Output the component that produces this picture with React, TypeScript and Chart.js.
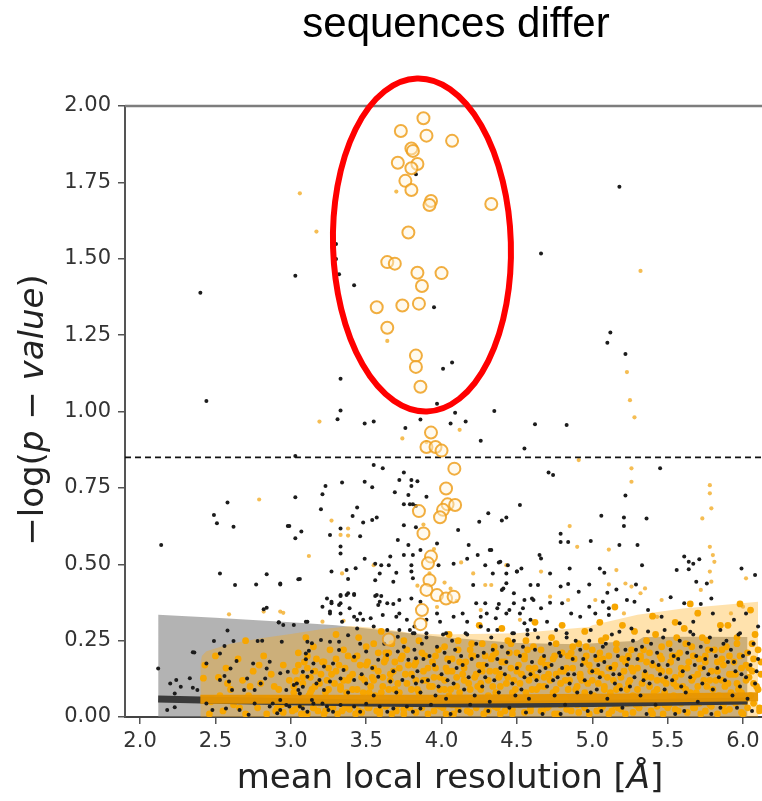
import React, { useEffect, useRef } from "react";
import { Chart, registerables } from "chart.js";

Chart.register(...registerables);

const titleText = "sequences differ";
const xMin = 1.9;
const xMax = 6.126;
const yMin = 0;
const yMax = 2.0;
const xTicks = [2.0, 2.5, 3.0, 3.5, 4.0, 4.5, 5.0, 5.5, 6.0];
const yTicks = [0, 0.25, 0.5, 0.75, 1.0, 1.25, 1.5, 1.75, 2.0];
const threshold = 0.85;

// red annotation ellipse (data units)
const ellipseCenter = [3.87, 1.545];
const ellipseRadius = [0.59, 0.545];

const grayBandUpper = [
  [2.12, 0.335], [2.5, 0.325], [3.0, 0.31], [3.3, 0.3], [3.6, 0.285], [4.0, 0.262],
  [4.5, 0.242], [4.9, 0.238], [5.3, 0.25], [5.34, 0.262], [5.7, 0.263], [6.03, 0.262],
];
const orangeBandUpper = [
  [2.4, 0.17], [2.41, 0.2], [2.44, 0.215], [2.6, 0.24], [2.8, 0.258], [3.0, 0.272],
  [3.2, 0.287], [3.4, 0.298], [3.6, 0.29], [3.8, 0.275], [4.0, 0.27], [4.5, 0.274],
  [4.98, 0.295], [5.0, 0.3], [5.3, 0.335], [5.6, 0.355], [5.9, 0.368], [6.1, 0.377],
];
const blackFit = [
  [2.12, 0.059], [2.4, 0.056], [3.0, 0.05], [3.5, 0.046], [4.0, 0.043], [4.5, 0.042],
  [5.0, 0.044], [5.5, 0.048], [6.03, 0.052],
];
const orangeFit = [
  [2.4, 0.058], [3.0, 0.058], [4.0, 0.058], [5.0, 0.061], [5.5, 0.063], [6.1, 0.066],
];

const orangeCircles = [
  [3.88, 1.96], [3.73, 1.918], [3.90, 1.903], [4.07, 1.886], [3.80, 1.861], [3.81, 1.853],
  [3.71, 1.814], [3.84, 1.81], [3.80, 1.796], [3.76, 1.755], [3.80, 1.725], [3.93, 1.689],
  [3.92, 1.676], [4.33, 1.679], [3.78, 1.586], [3.64, 1.489], [3.69, 1.484], [3.84, 1.454],
  [4.00, 1.453], [3.87, 1.411], [3.57, 1.341], [3.74, 1.347], [3.85, 1.353], [3.64, 1.274],
  [3.83, 1.183], [3.83, 1.146], [3.86, 1.081], [3.93, 0.931], [3.90, 0.884], [3.96, 0.884],
  [4.00, 0.872], [4.085, 0.813], [4.03, 0.748], [4.04, 0.696], [4.09, 0.694], [4.01, 0.678],
  [3.99, 0.654], [3.85, 0.674], [3.88, 0.601], [3.93, 0.525], [3.91, 0.503], [3.92, 0.448],
  [3.90, 0.416], [3.97, 0.399], [4.03, 0.388], [4.08, 0.394], [3.87, 0.35], [3.86, 0.304],
  [3.65, 0.254],
];

const blackDots = [
  [2.40, 1.389], [2.44, 1.034], [3.03, 1.444], [3.83, 1.777], [3.30, 1.548], [3.30, 1.499],
  [3.32, 1.449], [3.42, 1.413], [3.95, 1.341], [4.07, 1.16], [4.01, 1.14], [3.33, 1.107],
  [3.97, 1.025], [3.33, 1.003], [4.09, 0.996], [4.35, 1.002], [5.18, 1.736], [4.66, 1.517],
  [5.12, 1.259], [5.10, 1.225], [5.22, 1.188],
  [3.31, 0.975], [3.49, 0.961], [3.55, 0.967], [3.76, 0.946], [3.86, 0.974], [4.06, 0.961],
  [4.16, 0.967], [4.26, 0.904], [4.62, 0.958], [4.55, 0.879], [3.03, 0.854], [3.55, 0.825],
  [3.61, 0.814], [3.34, 0.768], [3.23, 0.756], [3.49, 0.77], [3.54, 0.752], [3.72, 0.776],
  [3.75, 0.8], [3.80, 0.776], [3.84, 0.772], [3.80, 0.756], [3.69, 0.736], [3.78, 0.727],
  [3.79, 0.696], [3.81, 0.696], [3.83, 0.691], [3.75, 0.696], [3.90, 0.721], [3.21, 0.729],
  [3.03, 0.719], [3.44, 0.686], [3.20, 0.68], [3.41, 0.658], [3.57, 0.653], [3.54, 0.645],
  [3.48, 0.637], [3.75, 0.628], [2.99, 0.625], [3.83, 0.621], [3.07, 0.607], [3.33, 0.617],
  [3.26, 0.596], [3.46, 0.592], [3.03, 0.585], [3.33, 0.558], [3.33, 0.535], [3.71, 0.579],
  [3.78, 0.563], [3.86, 0.547], [3.97, 0.568], [4.11, 0.612], [4.18, 0.563], [4.25, 0.639],
  [4.31, 0.667], [4.40, 0.643], [4.43, 0.653], [4.52, 0.694], [3.49, 0.518], [3.56, 0.502],
  [3.60, 0.497], [3.65, 0.497], [3.66, 0.525], [3.75, 0.53], [3.81, 0.53], [3.80, 0.497],
  [3.80, 0.476], [3.81, 0.454], [3.27, 0.476], [3.37, 0.481], [3.43, 0.487], [3.59, 0.47],
  [3.70, 0.472], [2.93, 0.437], [3.06, 0.452], [3.38, 0.452], [3.56, 0.448], [3.68, 0.443],
  [3.98, 0.497], [4.08, 0.502], [4.17, 0.518], [4.24, 0.53], [4.32, 0.547], [4.39, 0.508],
  [4.44, 0.497], [4.50, 0.476], [4.21, 0.432], [4.34, 0.47], [4.40, 0.416], [4.59, 0.432],
  [4.48, 0.405],
  [3.21, 0.361], [3.27, 0.377], [3.33, 0.399], [3.38, 0.405], [3.42, 0.399], [3.33, 0.372],
  [3.39, 0.356], [3.57, 0.399], [3.59, 0.377], [3.72, 0.383], [3.80, 0.388], [3.86, 0.377],
  [3.26, 0.339], [3.46, 0.339], [3.53, 0.323], [3.61, 0.334], [3.70, 0.328], [3.77, 0.318],
  [3.82, 0.296], [3.90, 0.318], [3.97, 0.339], [3.99, 0.312], [4.08, 0.328], [4.14, 0.339],
  [4.17, 0.312], [4.23, 0.372], [4.30, 0.339], [4.37, 0.356], [4.43, 0.339], [4.48, 0.372],
  [4.54, 0.356], [4.61, 0.383], [4.26, 0.296], [4.37, 0.285], [4.48, 0.274], [4.57, 0.285],
  [4.16, 0.274], [4.03, 0.274], [3.90, 0.274], [3.81, 0.274], [3.72, 0.285], [3.64, 0.285],
  [3.55, 0.296], [3.44, 0.318], [3.34, 0.312], [3.11, 0.312], [2.95, 0.301],
  [4.83, 0.956], [4.71, 0.80], [4.74, 0.792], [5.45, 0.814], [5.22, 0.725], [5.06, 0.659],
  [5.21, 0.653], [5.36, 0.65], [5.21, 0.625], [4.79, 0.60], [4.79, 0.573], [4.84, 0.573],
  [4.99, 0.576], [4.33, 0.547], [5.18, 0.563], [5.30, 0.563], [4.65, 0.53], [4.66, 0.519],
  [4.38, 0.506], [4.29, 0.497], [5.33, 0.497], [5.05, 0.486], [5.08, 0.472], [5.61, 0.525],
  [5.64, 0.508], [5.67, 0.502], [5.71, 0.516], [5.64, 0.484], [5.56, 0.481], [5.99, 0.486],
  [6.08, 0.465], [4.43, 0.47], [4.50, 0.476], [4.53, 0.486], [4.72, 0.47], [4.85, 0.486],
  [4.41, 0.421], [4.43, 0.438], [4.64, 0.432], [4.79, 0.427], [4.84, 0.435], [4.98, 0.434],
  [5.10, 0.407], [5.16, 0.417], [5.29, 0.434], [5.69, 0.443], [5.76, 0.437], [5.52, 0.392],
  [5.61, 0.372], [5.72, 0.37], [5.79, 0.388], [4.29, 0.372], [4.38, 0.37], [4.55, 0.383],
  [4.60, 0.388], [4.72, 0.374], [4.80, 0.372], [4.91, 0.41], [4.98, 0.361], [5.07, 0.377],
  [5.11, 0.356], [5.23, 0.383], [5.28, 0.377], [4.26, 0.328], [4.36, 0.323], [4.45, 0.35],
  [4.52, 0.339], [4.59, 0.318], [4.66, 0.356], [4.70, 0.312], [4.86, 0.339], [4.92, 0.328],
  [5.02, 0.339], [5.11, 0.334], [5.37, 0.35], [5.46, 0.328], [5.58, 0.307], [5.67, 0.312],
  [5.80, 0.339], [5.94, 0.318], [6.02, 0.339], [6.10, 0.296], [4.31, 0.285], [4.47, 0.274],
  [4.55, 0.307], [4.62, 0.285], [4.76, 0.285], [4.83, 0.274], [4.99, 0.285], [5.18, 0.279],
  [5.26, 0.29], [5.48, 0.285], [5.65, 0.279], [5.85, 0.285], [5.98, 0.274],
  [2.14, 0.563], [2.58, 0.702], [2.49, 0.661], [2.51, 0.634], [2.62, 0.623], [2.98, 0.625],
  [2.53, 0.47], [2.63, 0.432], [2.77, 0.434], [2.84, 0.467], [2.93, 0.434], [3.05, 0.451],
  [2.82, 0.353], [2.84, 0.358], [2.92, 0.31], [3.02, 0.301], [2.58, 0.283], [2.49, 0.249],
  [2.62, 0.249], [2.56, 0.232], [2.35, 0.212], [2.78, 0.249], [2.81, 0.25], [2.12, 0.159],
  [2.20, 0.11], [2.24, 0.121], [2.27, 0.099], [2.33, 0.127], [2.35, 0.096], [2.23, 0.077],
  [2.18, 0.023], [2.23, 0.032], [2.36, 0.211], [2.38, 0.088],
  [2.44, 0.175], [2.53, 0.208], [2.64, 0.183], [2.60, 0.159], [2.56, 0.134], [2.53, 0.121],
  [2.59, 0.116], [2.71, 0.126], [2.75, 0.175], [2.84, 0.159], [2.86, 0.181], [2.83, 0.126],
  [2.80, 0.11], [2.76, 0.088], [2.69, 0.088], [2.61, 0.088], [2.93, 0.143], [2.98, 0.148],
  [3.08, 0.148], [3.14, 0.148], [3.10, 0.189], [3.10, 0.208], [3.14, 0.241], [3.11, 0.246],
  [2.94, 0.246], [2.92, 0.309], [3.10, 0.312], [2.44, 0.044], [2.48, 0.023], [2.57, 0.028],
  [2.66, 0.023], [2.76, 0.044], [2.86, 0.034], [2.93, 0.056], [2.99, 0.034], [3.04, 0.11],
  [3.05, 0.088], [3.08, 0.099], [3.17, 0.11], [3.22, 0.088], [3.14, 0.056], [3.21, 0.044],
  [3.25, 0.023], [3.08, 0.028], [2.91, 0.012], [2.72, 0.007],
  [3.24, 0.388], [3.27, 0.372], [3.32, 0.367], [3.33, 0.396], [3.37, 0.399], [3.42, 0.403],
  [3.26, 0.345], [3.33, 0.339], [3.42, 0.328], [3.48, 0.318], [3.56, 0.396], [3.60, 0.396],
  [3.64, 0.372], [3.68, 0.37], [3.58, 0.367], [3.72, 0.339], [3.79, 0.285], [3.82, 0.274],
  [3.71, 0.263], [3.20, 0.252], [3.26, 0.246], [3.32, 0.246], [3.38, 0.268], [3.44, 0.29],
  [3.12, 0.217], [3.32, 0.219], [3.42, 0.197], [3.50, 0.214], [3.58, 0.187], [3.64, 0.203],
  [3.71, 0.214], [3.78, 0.187], [3.83, 0.192], [3.15, 0.175], [3.22, 0.165], [3.28, 0.175],
  [3.35, 0.154], [3.11, 0.132], [3.19, 0.121], [3.26, 0.116], [3.33, 0.126], [3.42, 0.121],
  [3.50, 0.11], [3.58, 0.132], [3.66, 0.116], [3.74, 0.121], [3.81, 0.132], [3.87, 0.116],
  [3.02, 0.105], [2.97, 0.088], [3.06, 0.077],
  [2.88, 0.044], [2.97, 0.039], [3.06, 0.034], [3.15, 0.044], [3.24, 0.034], [3.33, 0.039],
  [3.42, 0.034], [3.50, 0.043], [3.59, 0.034], [3.68, 0.028], [3.77, 0.034], [3.86, 0.028],
  [2.93, 0.023], [3.11, 0.017], [3.28, 0.017], [3.46, 0.017], [3.64, 0.017], [3.81, 0.017],
  [3.46, 0.24], [3.54, 0.16], [3.62, 0.24], [3.68, 0.15], [3.75, 0.23], [3.55, 0.07],
  [3.7, 0.08], [3.38, 0.08], [3.47, 0.14],
  [3.82, 0.22], [3.84, 0.15], [3.86, 0.08], [3.88, 0.19], [3.9, 0.26], [3.91, 0.12],
  [3.93, 0.04], [3.95, 0.17], [3.97, 0.23], [3.98, 0.1], [4.0, 0.14], [4.02, 0.21],
  [4.03, 0.06], [4.05, 0.18], [4.07, 0.25], [4.08, 0.11], [4.1, 0.16], [4.12, 0.02],
  [4.13, 0.2], [4.15, 0.09], [4.17, 0.27], [4.18, 0.13], [4.2, 0.19], [4.22, 0.07],
  [4.23, 0.24], [4.25, 0.15], [4.27, 0.1], [4.28, 0.21], [4.3, 0.17], [4.32, 0.05],
  [4.33, 0.26], [4.35, 0.12], [4.37, 0.19], [4.38, 0.08], [4.4, 0.23], [4.42, 0.14],
  [4.43, 0.18], [4.45, 0.03], [4.47, 0.11], [4.48, 0.25], [4.5, 0.16], [4.52, 0.2],
  [4.53, 0.09], [4.55, 0.13], [4.57, 0.27], [4.58, 0.06], [4.6, 0.18], [4.62, 0.22],
  [4.63, 0.12], [4.65, 0.15], [4.67, 0.01], [4.68, 0.2], [4.7, 0.1], [4.72, 0.24],
  [4.73, 0.17], [4.75, 0.07], [4.77, 0.13], [4.78, 0.21], [4.8, 0.16], [4.82, 0.04],
  [4.83, 0.26], [4.85, 0.11], [4.87, 0.19], [4.88, 0.14], [4.9, 0.08], [4.92, 0.22],
  [4.93, 0.17], [4.95, 0.12], [4.97, 0.02], [4.98, 0.25], [5.0, 0.15], [5.02, 0.2],
  [5.03, 0.09], [5.05, 0.13], [5.07, 0.23], [5.08, 0.18], [5.1, 0.06], [5.12, 0.16],
  [5.13, 0.27], [5.15, 0.11], [5.17, 0.2], [5.18, 0.14], [5.2, 0.03], [5.22, 0.22],
  [5.23, 0.17], [5.25, 0.1], [5.27, 0.25], [5.28, 0.13], [5.3, 0.19], [5.32, 0.07],
  [5.33, 0.23], [5.35, 0.15], [5.37, 0.28], [5.38, 0.11], [5.4, 0.18], [5.42, 0.04],
  [5.43, 0.21], [5.45, 0.14], [5.47, 0.26], [5.48, 0.09], [5.5, 0.17], [5.52, 0.22],
  [5.53, 0.12], [5.55, 0.01], [5.57, 0.19], [5.58, 0.25], [5.6, 0.15], [5.62, 0.08],
  [5.63, 0.21], [5.65, 0.13], [5.67, 0.27], [5.68, 0.17], [5.7, 0.05], [5.72, 0.23],
  [5.73, 0.11], [5.75, 0.19], [5.77, 0.14], [5.78, 0.26], [5.8, 0.09], [5.82, 0.2],
  [5.83, 0.16], [5.85, 0.03], [5.87, 0.24], [5.88, 0.12], [5.9, 0.18], [5.92, 0.22],
  [5.93, 0.07], [5.95, 0.15], [5.97, 0.27], [5.98, 0.1], [6.0, 0.2], [6.02, 0.13],
  [6.03, 0.06], [6.05, 0.17], [6.07, 0.24], [6.08, 0.11], [6.1, 0.19],
  [3.83, 0.11], [3.87, 0.24], [3.92, 0.2], [3.96, 0.07], [4.01, 0.27], [4.04, 0.12],
  [4.09, 0.22], [4.14, 0.17], [4.19, 0.04], [4.24, 0.2], [4.29, 0.13], [4.34, 0.22],
  [4.39, 0.16], [4.44, 0.21], [4.49, 0.07], [4.54, 0.23], [4.59, 0.14], [4.64, 0.26],
  [4.69, 0.16], [4.74, 0.12], [4.79, 0.2], [4.84, 0.14], [4.89, 0.25], [4.94, 0.19],
  [4.99, 0.08], [5.04, 0.17], [5.09, 0.24], [5.14, 0.14], [5.19, 0.09], [5.24, 0.19],
  [5.29, 0.22], [5.34, 0.12], [5.39, 0.24], [5.44, 0.17], [5.49, 0.13], [5.54, 0.2],
  [5.59, 0.1], [5.64, 0.24], [5.69, 0.2], [5.74, 0.16], [5.79, 0.22], [5.84, 0.13],
  [5.89, 0.25], [5.94, 0.18], [5.99, 0.14], [6.04, 0.21], [6.09, 0.15],
  [4.06, 0.01], [4.31, 0.02], [4.56, 0.015], [4.79, 0.01], [5.06, 0.02], [5.36, 0.01],
  [5.61, 0.02], [5.79, 0.01], [5.96, 0.03], [6.06, 0.02],
];

// faint, isolated orange points away from the dense bottom
const orangeSparse = [
  [3.06, 1.714], [3.17, 1.589], [3.64, 1.231], [3.70, 1.72], [5.32, 1.46], [5.23, 1.129],
  [5.25, 1.037], [5.28, 0.981], [5.26, 0.814], [5.26, 0.77], [4.91, 0.841], [3.19, 0.967],
  [3.74, 0.912], [4.12, 0.94],
  [5.78, 0.759], [5.78, 0.732], [5.79, 0.683], [5.73, 0.65], [5.78, 0.557], [5.80, 0.53],
  [5.81, 0.508], [5.78, 0.476], [5.79, 0.443], [5.72, 0.416], [6.02, 0.454], [6.0, 0.361],
  [5.92, 0.339], [4.85, 0.625], [4.90, 0.557], [5.11, 0.548], [5.16, 0.481], [5.22, 0.437],
  [5.26, 0.427], [5.46, 0.383], [4.43, 0.497], [4.66, 0.476], [4.72, 0.394], [4.84, 0.383],
  [5.35, 0.421], [5.32, 0.405], [5.43, 0.328], [5.21, 0.339], [5.11, 0.434], [5.02, 0.383],
  [4.33, 0.432], [4.26, 0.35], [4.52, 0.318], [3.27, 0.643], [3.38, 0.617], [3.33, 0.596],
  [3.38, 0.594], [3.12, 0.527], [3.34, 0.47], [3.55, 0.497], [4.13, 0.506], [4.21, 0.47],
  [4.29, 0.432], [2.93, 0.345], [3.21, 0.312], [3.35, 0.315], [2.79, 0.712], [2.82, 0.345],
  [2.95, 0.341], [2.59, 0.336],
  [3.88, 0.63], [3.95, 0.55], [3.92, 0.47], [4.02, 0.44], [3.97, 0.36], [4.06, 0.42],
  [3.84, 0.43], [4.1, 0.38], [3.9, 0.9],
];

// dense orange cloud near the bottom of the panel
const orangeDense = [
  [2.42, 0.127], [2.43, 0.17], [2.46, 0.01], [2.47, 0.05], [2.5, 0.2], [2.52, 0.13], [2.53, 0.07],
  [2.55, 0.02], [2.57, 0.16], [2.58, 0.11], [2.6, 0.09], [2.62, 0.04], [2.65, 0.19],
  [2.66, 0.03], [2.68, 0.12], [2.7, 0.01], [2.72, 0.07], [2.73, 0.1], [2.75, 0.15],
  [2.78, 0.03], [2.79, 0.17], [2.8, 0.11], [2.82, 0.2], [2.84, 0.01], [2.85, 0.06],
  [2.87, 0.14], [2.89, 0.1], [2.9, 0.02], [2.92, 0.09], [2.94, 0.04], [2.95, 0.17],
  [2.97, 0.05], [2.99, 0.12],
  [3.01, 0.02], [3.02, 0.08], [3.03, 0.15], [3.05, 0.21], [3.06, 0.04], [3.08, 0.11],
  [3.09, 0.18], [3.1, 0.01], [3.12, 0.07], [3.13, 0.13], [3.15, 0.03], [3.16, 0.1],
  [3.17, 0.19], [3.19, 0.05], [3.2, 0.14], [3.22, 0.01], [3.23, 0.08], [3.25, 0.16],
  [3.26, 0.22], [3.28, 0.03], [3.29, 0.11], [3.31, 0.06], [3.32, 0.17], [3.34, 0.02],
  [3.35, 0.12], [3.37, 0.08], [3.38, 0.2], [3.4, 0.04], [3.41, 0.14], [3.43, 0.01],
  [3.44, 0.09], [3.46, 0.17], [3.47, 0.05], [3.49, 0.12], [3.5, 0.23], [3.52, 0.03],
  [3.53, 0.1], [3.55, 0.16], [3.56, 0.07], [3.58, 0.21], [3.59, 0.01], [3.61, 0.13],
  [3.62, 0.18], [3.64, 0.04], [3.65, 0.09], [3.67, 0.24], [3.68, 0.15], [3.7, 0.02],
  [3.71, 0.11], [3.73, 0.19], [3.74, 0.06], [3.76, 0.14], [3.77, 0.22], [3.79, 0.03],
  [3.8, 0.09], [3.82, 0.17], [3.83, 0.12], [3.85, 0.25], [3.86, 0.05], [3.88, 0.15],
  [3.89, 0.2], [3.91, 0.01], [3.92, 0.1], [3.94, 0.18], [3.95, 0.13], [3.97, 0.04],
  [3.98, 0.22],
  [3.04, 0.12], [3.07, 0.01], [3.11, 0.16], [3.14, 0.09], [3.18, 0.02], [3.21, 0.18],
  [3.24, 0.12], [3.27, 0.06], [3.3, 0.15], [3.33, 0.09], [3.36, 0.03], [3.39, 0.13],
  [3.42, 0.19], [3.45, 0.02], [3.48, 0.08], [3.51, 0.18], [3.54, 0.13], [3.57, 0.02],
  [3.6, 0.08], [3.63, 0.21], [3.66, 0.12], [3.69, 0.18], [3.72, 0.08], [3.75, 0.01],
  [3.78, 0.17], [3.81, 0.05], [3.84, 0.09], [3.87, 0.21], [3.9, 0.12], [3.93, 0.06],
  [3.96, 0.16], [3.99, 0.09],
  [4.01, 0.03], [4.02, 0.12], [4.04, 0.19], [4.05, 0.07], [4.07, 0.15], [4.08, 0.01],
  [4.1, 0.1], [4.11, 0.22], [4.13, 0.05], [4.14, 0.14], [4.16, 0.18], [4.17, 0.02],
  [4.19, 0.09], [4.2, 0.24], [4.22, 0.13], [4.23, 0.04], [4.25, 0.17], [4.26, 0.11],
  [4.28, 0.01], [4.29, 0.2], [4.31, 0.07], [4.32, 0.15], [4.34, 0.1], [4.35, 0.23],
  [4.37, 0.03], [4.38, 0.13], [4.4, 0.18], [4.41, 0.06], [4.43, 0.11], [4.44, 0.25],
  [4.46, 0.16], [4.47, 0.01], [4.49, 0.09], [4.5, 0.21], [4.52, 0.04], [4.53, 0.14],
  [4.55, 0.19], [4.56, 0.08], [4.58, 0.12], [4.59, 0.02], [4.61, 0.23], [4.62, 0.16],
  [4.64, 0.05], [4.65, 0.1], [4.67, 0.19], [4.68, 0.13], [4.7, 0.03], [4.71, 0.17],
  [4.73, 0.26], [4.74, 0.08], [4.76, 0.14], [4.77, 0.01], [4.79, 0.11], [4.8, 0.21],
  [4.82, 0.06], [4.83, 0.16], [4.85, 0.12], [4.86, 0.02], [4.88, 0.19], [4.89, 0.09],
  [4.91, 0.24], [4.92, 0.14], [4.94, 0.04], [4.95, 0.18], [4.97, 0.11], [4.98, 0.01],
  [5.0, 0.22], [5.01, 0.07], [5.03, 0.15], [5.04, 0.11], [5.06, 0.03], [5.07, 0.19],
  [5.09, 0.26], [5.1, 0.13], [5.12, 0.08], [5.13, 0.02], [5.15, 0.17], [5.16, 0.22],
  [5.18, 0.1], [5.19, 0.05], [5.21, 0.15], [5.22, 0.01], [5.24, 0.2], [5.25, 0.12],
  [5.27, 0.07], [5.28, 0.28], [5.3, 0.16], [5.31, 0.03], [5.33, 0.11], [5.34, 0.22],
  [5.36, 0.18], [5.37, 0.06], [5.39, 0.13], [5.4, 0.01], [5.42, 0.27], [5.43, 0.09],
  [5.45, 0.2], [5.46, 0.15], [5.48, 0.04], [5.49, 0.11], [5.51, 0.24], [5.52, 0.18],
  [5.54, 0.07], [5.55, 0.13], [5.57, 0.02], [5.58, 0.21], [5.6, 0.1], [5.61, 0.29],
  [5.63, 0.16], [5.64, 0.05], [5.66, 0.12], [5.67, 0.2], [5.69, 0.08], [5.7, 0.14],
  [5.72, 0.01], [5.73, 0.26], [5.75, 0.18], [5.76, 0.1], [5.78, 0.04], [5.79, 0.15],
  [5.81, 0.22], [5.82, 0.12], [5.84, 0.07], [5.85, 0.3], [5.87, 0.17], [5.88, 0.02],
  [5.9, 0.11], [5.91, 0.2], [5.93, 0.14], [5.94, 0.05], [5.96, 0.24], [5.97, 0.09],
  [5.99, 0.16], [6.0, 0.01], [6.02, 0.12], [6.03, 0.21], [6.05, 0.07], [6.06, 0.15],
  [6.08, 0.27], [6.09, 0.1], [6.11, 0.03], [6.12, 0.18],
  [4.03, 0.16], [4.06, 0.09], [4.09, 0.04], [4.12, 0.18], [4.15, 0.12], [4.18, 0.06],
  [4.21, 0.2], [4.24, 0.1], [4.27, 0.15], [4.3, 0.02], [4.33, 0.19], [4.36, 0.08],
  [4.39, 0.14], [4.42, 0.02], [4.45, 0.21], [4.48, 0.12], [4.51, 0.17], [4.54, 0.06],
  [4.57, 0.22], [4.6, 0.14], [4.63, 0.09], [4.66, 0.02], [4.69, 0.17], [4.72, 0.12],
  [4.75, 0.2], [4.78, 0.06], [4.81, 0.15], [4.84, 0.09], [4.87, 0.23], [4.9, 0.04],
  [4.93, 0.12], [4.96, 0.2], [4.99, 0.15], [5.02, 0.05], [5.05, 0.21], [5.08, 0.09],
  [5.11, 0.16], [5.14, 0.12], [5.17, 0.03], [5.2, 0.19], [5.23, 0.09], [5.26, 0.16],
  [5.29, 0.04], [5.32, 0.19], [5.35, 0.13], [5.38, 0.21], [5.41, 0.08], [5.44, 0.16],
  [5.47, 0.12], [5.5, 0.03], [5.53, 0.2], [5.56, 0.1], [5.59, 0.16], [5.62, 0.24],
  [5.65, 0.08], [5.68, 0.03], [5.71, 0.19], [5.74, 0.12], [5.77, 0.22], [5.8, 0.06],
  [5.83, 0.18], [5.86, 0.12], [5.89, 0.23], [5.92, 0.08], [5.95, 0.14], [5.98, 0.2],
  [6.01, 0.05], [6.04, 0.16], [6.07, 0.11], [6.1, 0.22],
  [4.05, 0.27], [4.4, 0.29], [4.62, 0.31], [4.95, 0.28], [5.05, 0.31], [5.2, 0.3],
  [5.4, 0.33], [5.55, 0.31], [5.7, 0.34], [5.9, 0.3], [6.05, 0.35], [3.6, 0.28],
  [3.3, 0.27], [3.1, 0.26], [2.7, 0.25], [4.25, 0.3], [4.8, 0.3], [5.15, 0.36],
  [5.65, 0.37], [5.98, 0.37],
  [2.91, 0.03], [2.95, 0.015], [2.99, 0.045], [3.03, 0.025], [3.07, 0.04], [3.11, 0.01],
  [3.15, 0.03], [3.19, 0.045], [3.23, 0.02], [3.27, 0.035], [3.31, 0.01], [3.35, 0.045],
  [3.39, 0.025], [3.43, 0.04], [3.47, 0.015], [3.51, 0.03], [3.55, 0.045], [3.59, 0.02],
  [3.63, 0.035], [3.67, 0.01], [3.71, 0.04], [3.75, 0.025], [3.79, 0.045], [3.83, 0.015],
  [3.87, 0.03], [3.91, 0.045], [3.95, 0.02], [3.99, 0.035], [4.03, 0.01], [4.07, 0.04],
  [4.11, 0.025], [4.15, 0.045], [4.19, 0.015], [4.23, 0.03], [4.27, 0.045], [4.31, 0.02],
  [4.35, 0.035], [4.39, 0.01], [4.43, 0.04], [4.47, 0.025], [4.51, 0.045], [4.55, 0.015],
  [4.59, 0.03], [4.63, 0.045], [4.67, 0.02], [4.71, 0.035], [4.75, 0.01], [4.79, 0.04],
  [4.83, 0.025], [4.87, 0.045], [4.91, 0.015], [4.95, 0.03], [4.99, 0.045], [5.03, 0.02],
  [5.07, 0.035], [5.11, 0.01], [5.15, 0.04], [5.19, 0.025], [5.23, 0.045], [5.27, 0.015],
  [5.31, 0.03], [5.35, 0.045], [5.39, 0.02], [5.43, 0.035], [5.47, 0.01], [5.51, 0.04],
  [5.55, 0.025], [5.59, 0.045], [5.63, 0.015], [5.67, 0.03], [5.71, 0.045], [5.75, 0.02],
  [5.79, 0.035], [5.83, 0.01], [5.87, 0.04], [5.91, 0.025], [5.95, 0.045], [5.99, 0.015],
  [6.03, 0.03], [6.07, 0.045], [6.11, 0.02],
  [3.02, 0.1], [3.05, 0.17], [3.08, 0.13], [3.11, 0.2], [3.13, 0.08], [3.16, 0.15],
  [3.19, 0.11], [3.22, 0.18], [3.25, 0.09], [3.27, 0.14], [3.3, 0.19], [3.33, 0.1],
  [3.36, 0.16], [3.38, 0.12], [3.41, 0.09], [3.44, 0.2], [3.47, 0.13], [3.5, 0.17],
  [3.52, 0.08], [3.55, 0.12], [3.58, 0.15], [3.61, 0.1], [3.63, 0.19], [3.66, 0.14],
  [3.69, 0.09], [3.72, 0.16], [3.74, 0.2], [3.77, 0.11], [3.8, 0.14], [3.83, 0.18],
  [3.85, 0.08], [3.88, 0.12], [3.91, 0.16], [3.94, 0.1], [3.96, 0.2], [3.99, 0.13],
  [4.02, 0.09], [4.04, 0.15], [4.07, 0.19], [4.1, 0.13], [4.12, 0.08], [4.15, 0.16],
  [4.18, 0.11], [4.2, 0.2], [4.23, 0.14], [4.26, 0.09], [4.28, 0.17], [4.31, 0.12],
  [4.34, 0.2], [4.36, 0.15], [4.39, 0.1], [4.42, 0.18], [4.44, 0.13], [4.47, 0.08],
  [4.5, 0.15], [4.52, 0.11], [4.55, 0.2], [4.58, 0.16], [4.6, 0.09], [4.63, 0.13],
  [4.66, 0.18], [4.68, 0.1], [4.71, 0.14], [4.74, 0.19], [4.76, 0.09], [4.79, 0.15],
  [4.82, 0.12], [4.84, 0.2], [4.87, 0.16], [4.9, 0.1], [4.92, 0.13], [4.95, 0.08],
  [4.98, 0.17], [5.0, 0.12], [5.03, 0.19], [5.06, 0.14], [5.08, 0.1], [5.11, 0.2],
  [5.14, 0.16], [5.16, 0.09], [5.19, 0.13], [5.22, 0.18], [5.24, 0.11], [5.27, 0.15],
  [5.3, 0.09], [5.32, 0.2], [5.35, 0.14], [5.38, 0.1], [5.4, 0.17], [5.43, 0.12],
  [5.46, 0.19], [5.48, 0.08], [5.51, 0.15], [5.54, 0.11], [5.56, 0.2], [5.59, 0.14],
  [5.62, 0.09], [5.64, 0.18], [5.67, 0.13], [5.7, 0.1], [5.72, 0.16], [5.75, 0.2],
  [5.78, 0.12], [5.8, 0.09], [5.83, 0.15], [5.86, 0.19], [5.88, 0.1], [5.91, 0.14],
  [5.94, 0.18], [5.96, 0.11], [5.99, 0.08], [6.02, 0.17], [6.04, 0.13], [6.07, 0.19],
  [6.1, 0.09], [6.12, 0.14],
  [4.02, 0.23], [4.11, 0.25], [4.19, 0.22], [4.27, 0.24], [4.36, 0.21], [4.46, 0.24],
  [4.56, 0.25], [4.66, 0.22], [4.76, 0.24], [4.86, 0.21], [4.96, 0.23], [5.06, 0.25],
  [5.16, 0.24], [5.26, 0.22], [5.36, 0.25], [5.46, 0.23], [5.56, 0.26], [5.66, 0.23],
  [5.76, 0.25], [5.86, 0.22], [5.96, 0.26], [6.06, 0.24], [3.15, 0.23], [3.35, 0.22],
  [3.55, 0.24], [3.75, 0.25], [3.45, 0.26], [3.65, 0.21],
];

const toXY = (arr: number[][]) => arr.map(([x, y]) => ({ x, y }));

const TICK_FONT = { family: "'DejaVu Sans', sans-serif", size: 21 };

const overlayPlugin = {
  id: "overlay",
  afterDraw(chart: any) {
    const { ctx, chartArea, scales } = chart;
    const xs = scales.x;
    const ys = scales.y;
    ctx.save();
    // top spine
    ctx.strokeStyle = "#7d7d7d";
    ctx.lineWidth = 2.5;
    ctx.beginPath();
    ctx.moveTo(chartArea.left, chartArea.top);
    ctx.lineTo(chartArea.right, chartArea.top);
    ctx.stroke();

    // red ellipse
    const cx = xs.getPixelForValue(ellipseCenter[0]);
    const cy = ys.getPixelForValue(ellipseCenter[1]);
    const rx = Math.abs(xs.getPixelForValue(ellipseCenter[0] + ellipseRadius[0]) - cx);
    const ry = Math.abs(ys.getPixelForValue(ellipseCenter[1] + ellipseRadius[1]) - cy);
    ctx.strokeStyle = "#ff0000";
    ctx.lineWidth = 6;
    ctx.beginPath();
    ctx.ellipse(cx, cy, rx, ry, -0.03, 0, Math.PI * 2);
    ctx.stroke();

    // title
    ctx.fillStyle = "#000";
    ctx.textAlign = "center";
    ctx.textBaseline = "middle";
    ctx.font = "42px 'Liberation Sans', Arial, sans-serif";
    ctx.fillText(titleText, 456, 25);

    const lblSize = 34;
    const drawParts = (parts: { t: string; i: boolean }[]) => {
      let total = 0;
      const widths = parts.map((p) => {
        ctx.font = `${p.i ? "italic " : ""}${lblSize}px 'DejaVu Sans', sans-serif`;
        const w = ctx.measureText(p.t).width;
        total += w;
        return w;
      });
      let x = -total / 2;
      ctx.textAlign = "left";
      parts.forEach((p, k) => {
        ctx.font = `${p.i ? "italic " : ""}${lblSize}px 'DejaVu Sans', sans-serif`;
        ctx.fillText(p.t, x, 0);
        x += widths[k];
      });
    };
    ctx.fillStyle = "#222";
    ctx.save();
    ctx.translate(450, 779);
    drawParts([
      { t: "mean local resolution [", i: false },
      { t: "Å", i: true },
      { t: "]", i: false },
    ]);
    ctx.restore();

    ctx.save();
    ctx.translate(34, 410);
    ctx.rotate(-Math.PI / 2);
    drawParts([
      { t: "\u2212log(", i: false },
      { t: "p", i: true },
      { t: " \u2212 ", i: false },
      { t: "value", i: true },
      { t: ")", i: false },
    ]);
    ctx.restore();
    ctx.restore();
  },
};

export default function App() {
  const ref = useRef<HTMLCanvasElement | null>(null);
  useEffect(() => {
    if (!ref.current) return;
    const chart = new Chart(ref.current, {
      type: "scatter",
      data: {
        datasets: [
          {
            type: "line",
            data: toXY(grayBandUpper),
            fill: "origin",
            backgroundColor: "rgba(128,128,128,0.6)",
            borderWidth: 0,
            pointRadius: 0,
            showLine: true,
            clip: 0,
            order: 10,
          } as any,
          {
            type: "line",
            data: toXY(orangeBandUpper),
            fill: "origin",
            backgroundColor: "rgba(255,165,0,0.32)",
            borderWidth: 0,
            pointRadius: 0,
            showLine: true,
            clip: 0,
            order: 9,
          } as any,
          {
            data: toXY(orangeDense),
            pointRadius: 3.4,
            pointBackgroundColor: "rgb(247,166,0)",
            pointBorderWidth: 0,
            clip: 0,
            order: 8,
          } as any,
          {
            data: toXY(orangeSparse),
            pointRadius: 2.1,
            pointBackgroundColor: "rgba(242,172,40,0.8)",
            pointBorderWidth: 0,
            clip: 0,
            order: 8,
          } as any,
          {
            type: "line",
            data: toXY(blackFit),
            borderColor: "#3a3a3a",
            borderWidth: 7,
            pointRadius: 0,
            fill: false,
            showLine: true,
            clip: 0,
            order: 7,
          } as any,
          {
            type: "line",
            data: toXY(orangeFit),
            borderColor: "rgba(232,150,0,0.95)",
            borderWidth: 9,
            pointRadius: 0,
            fill: false,
            showLine: true,
            clip: 0,
            order: 6,
          } as any,
          {
            data: toXY(blackDots),
            pointRadius: 2.0,
            pointBackgroundColor: "#1c1c1c",
            pointBorderWidth: 0,
            clip: 0,
            order: 5,
          } as any,
          {
            type: "line",
            data: [
              { x: xMin, y: threshold },
              { x: xMax, y: threshold },
            ],
            borderColor: "#111",
            borderWidth: 1.6,
            borderDash: [6, 4],
            pointRadius: 0,
            fill: false,
            showLine: true,
            clip: 0,
            order: 4,
          } as any,
          {
            data: toXY(orangeCircles),
            pointRadius: 6,
            pointBorderWidth: 2,
            pointBorderColor: "rgba(238,160,30,0.85)",
            pointBackgroundColor: "rgba(255,244,220,0.45)",
            clip: 0,
            order: 3,
          } as any,
        ],
      },
      options: {
        animation: false,
        responsive: false,
        devicePixelRatio: 1,
        layout: { autoPadding: false, padding: { top: 106, left: 0, right: 0, bottom: 0 } },
        plugins: { legend: { display: false }, tooltip: { enabled: false }, title: { display: false } },
        scales: {
          x: {
            type: "linear",
            min: xMin,
            max: xMax,
            afterBuildTicks: (s: any) => {
              s.ticks = xTicks.map((v) => ({ value: v }));
            },
            afterFit: (s: any) => {
              s.height = 84;
              s.paddingLeft = 0;
              s.paddingRight = 0;
            },
            grid: { drawOnChartArea: false, drawTicks: true, tickLength: 7, color: "#555", lineWidth: 1.5 },
            border: { display: true, color: "#444", width: 2 },
            ticks: {
              font: TICK_FONT,
              color: "#333",
              padding: 5,
              maxRotation: 0,
              autoSkip: false,
              callback: (v: any) => Number(v).toFixed(1),
            },
          },
          y: {
            type: "linear",
            min: yMin,
            max: yMax,
            afterBuildTicks: (s: any) => {
              s.ticks = yTicks.map((v) => ({ value: v }));
            },
            afterFit: (s: any) => {
              s.width = 125;
              s.paddingTop = 0;
              s.paddingBottom = 0;
            },
            grid: { drawOnChartArea: false, drawTicks: true, tickLength: 7, color: "#555", lineWidth: 1.5 },
            border: { display: true, color: "#555", width: 2 },
            ticks: {
              font: TICK_FONT,
              color: "#333",
              padding: 7,
              autoSkip: false,
              callback: (v: any) => Number(v).toFixed(2),
            },
          },
        },
      },
      plugins: [overlayPlugin],
    });
    return () => chart.destroy();
  }, []);
  return (
    <div style={{ position: "absolute", left: 0, top: 0, width: 762, height: 801, background: "#fff" }}>
      <canvas ref={ref} width={762} height={801} style={{ display: "block" }} />
    </div>
  );
}
